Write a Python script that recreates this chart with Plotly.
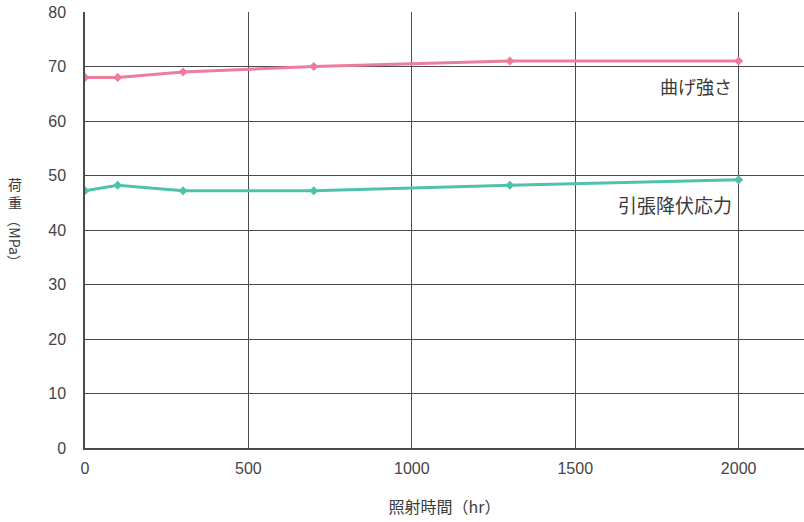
import plotly.graph_objects as go

# data
hours = [0, 100, 300, 700, 1300, 2000]
bending = [68, 68, 69, 70, 71, 71]
tensile = [47.2, 48.2, 47.2, 47.2, 48.2, 49.2]

x_ticks = [0, 500, 1000, 1500, 2000]
y_ticks = [0, 10, 20, 30, 40, 50, 60, 70, 80]

pink = '#ec7d9b'
teal = '#4fc3a9'
grid = '#4a4a4a'
txt = '#3a3a3a'
jp = 'Noto Sans CJK JP'

fig = go.Figure()

fig.add_trace(go.Scatter(x=hours, y=bending, mode='lines+markers', name='曲げ強さ',
                         line=dict(color=pink, width=3),
                         marker=dict(symbol='diamond', size=7, color=pink)))
fig.add_trace(go.Scatter(x=hours, y=tensile, mode='lines+markers', name='引張降伏応力',
                         line=dict(color=teal, width=3),
                         marker=dict(symbol='diamond', size=7, color=teal)))

# series labels
fig.add_annotation(x=2000, y=66.4, text='曲げ強さ', showarrow=False, xanchor='right',
                   xshift=-5, font=dict(family=jp, size=18, color=txt))
fig.add_annotation(x=2000, y=44.6, text='引張降伏応力', showarrow=False, xanchor='right',
                   xshift=-5, font=dict(family=jp, size=19, color=txt))

# vertical-style y title: upright kanji, rotated (MPa)
fig.add_annotation(xref='paper', yref='paper', x=-0.0974, y=0.586, text='荷<br>重',
                   xanchor='center', showarrow=False, font=dict(family=jp, size=14, color=txt))
fig.add_annotation(xref='paper', yref='paper', x=-0.0974, y=0.474, text='（MPa）',
                   xanchor='center', textangle=90, showarrow=False,
                   font=dict(family=jp, size=14, color=txt))

fig.update_xaxes(range=[0, 2200], tickvals=x_ticks, showgrid=True, gridcolor=grid, gridwidth=1,
                 showline=True, linecolor=grid, linewidth=1.5, zeroline=False,
                 ticks='', tickfont=dict(size=16, color='#444'), ticklabelstandoff=5,
                 title=dict(text='照射時間（hr）', font=dict(family=jp, size=16, color=txt), standoff=26))
fig.update_yaxes(range=[0, 80], tickvals=y_ticks, showgrid=True, gridcolor=grid, gridwidth=1,
                 showline=True, linecolor=grid, linewidth=1.5, zeroline=False,
                 ticks='', tickfont=dict(size=16, color='#444'), ticklabelstandoff=14)

fig.update_layout(
    width=804, height=522,
    margin=dict(l=85, r=0, t=12, b=74),
    paper_bgcolor='white', plot_bgcolor='white',
    showlegend=False,
    font=dict(family='Liberation Sans, Noto Sans CJK JP, sans-serif', color=txt),
)

# drop the default page margin so the figure sits at the window corner
fig.write_html("out.html", config={'displayModeBar': False},
               post_script="document.body.style.margin='0';")
